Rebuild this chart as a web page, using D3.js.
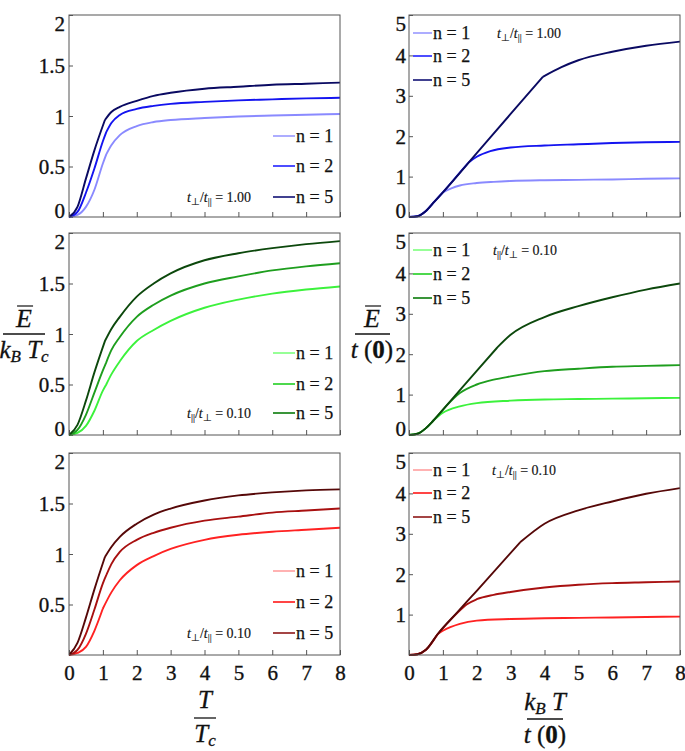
<!DOCTYPE html>
<html><head><meta charset="utf-8">
<script src="https://cdn.jsdelivr.net/npm/d3@7"></script>
<style>
body{margin:0;background:#fff}
svg{display:block}
</style>
</head><body>
<svg id="chart" width="685" height="751"></svg>
<script>
// ---------------- data ----------------
const X_TICKS = [0, 1, 2, 3, 4, 5, 6, 7, 8];
const LEFT_Y_TICKS = [0, 0.5, 1, 1.5, 2];
const LEFT_Y_TICKS_BOTTOM = [0.5, 1, 1.5, 2];
const RIGHT_Y_TICKS = [0, 1, 2, 3, 4, 5];
const RIGHT_Y_TICKS_BOTTOM = [1, 2, 3, 4, 5];
const SERIES_NAMES = ["n = 1", "n = 2", "n = 5"];

// top-left: E/(kB Tc) vs T/Tc, t⊥/t|| = 1.00
const tl_n1 = [[0,0],[0.25,0.02],[0.5,0.1],[0.75,0.27],[1,0.53],[1.1,0.62],[1.25,0.71],[1.5,0.81],[2,0.9],[2.5,0.94],[3,0.96],[4,0.98],[5,0.995],[6,1.005],[7,1.013],[8,1.02]];
const tl_n2 = [[0,0],[0.25,0.05],[0.5,0.24],[0.75,0.48],[1,0.75],[1.1,0.84],[1.25,0.93],[1.5,1.01],[2,1.07],[2.5,1.1],[3,1.12],[4,1.14],[5,1.155],[6,1.165],[7,1.175],[8,1.18]];
const tl_n5 = [[0,0],[0.25,0.1],[0.5,0.38],[0.75,0.66],[1.06,0.96],[1.25,1.04],[1.5,1.09],[2,1.15],[2.5,1.2],[3,1.23],[4,1.27],[5,1.29],[6,1.31],[7,1.32],[8,1.33]];
const tl_kinks = [1.1, 1.1, 1.06];

// top-right: E/t(0) vs kB T/t(0), t⊥/t|| = 1.00
const tr_n1 = [[0,0],[0.25,0.02],[0.5,0.15],[0.75,0.38],[1,0.61],[1.25,0.71],[1.5,0.78],[2,0.84],[2.5,0.87],[3,0.89],[4,0.91],[5,0.92],[6,0.93],[7,0.945],[8,0.955]];
const tr_n2 = [[0,0],[0.25,0.02],[0.5,0.15],[0.75,0.38],[1,0.61],[1.25,0.85],[1.5,1.1],[1.75,1.34],[2,1.49],[2.4,1.63],[3,1.72],[4,1.77],[5,1.8],[6,1.83],[7,1.85],[8,1.86]];
const tr_n5 = [[0,0],[0.25,0.02],[0.5,0.15],[0.75,0.38],[1,0.61],[2,1.58],[3,2.55],[3.95,3.47],[4.5,3.71],[5,3.88],[6,4.09],[7,4.24],[8,4.34]];
const tr_kinks = [1, 1.75, 3.95];

// middle-left: t||/t⊥ = 0.10
const ml_n1 = [[0,0],[0.25,0.02],[0.5,0.09],[0.75,0.24],[1,0.44],[1.1,0.5],[1.25,0.6],[1.5,0.73],[2,0.93],[2.5,1.04],[3,1.13],[4,1.26],[5,1.34],[6,1.4],[7,1.44],[8,1.47]];
const ml_n2 = [[0,0],[0.25,0.05],[0.5,0.2],[0.75,0.42],[1,0.64],[1.1,0.72],[1.25,0.84],[1.5,0.97],[2,1.17],[2.5,1.29],[3,1.38],[4,1.5],[5,1.57],[6,1.63],[7,1.67],[8,1.7]];
const ml_n5 = [[0,0],[0.25,0.1],[0.5,0.34],[0.75,0.62],[1.06,0.93],[1.25,1.05],[1.5,1.17],[2,1.37],[2.5,1.5],[3,1.6],[4,1.73],[5,1.8],[6,1.85],[7,1.89],[8,1.92]];
const ml_kinks = [1.1, 1.1, 1.06];

// middle-right: t||/t⊥ = 0.10
const mr_n1 = [[0,0],[0.25,0.03],[0.5,0.17],[0.7,0.34],[1,0.55],[1.5,0.71],[2,0.79],[3,0.85],[4,0.88],[5,0.89],[6,0.9],[7,0.91],[8,0.92]];
const mr_n2 = [[0,0],[0.25,0.03],[0.5,0.17],[0.7,0.34],[1.1,0.72],[1.5,1.04],[2,1.25],[2.5,1.37],[3,1.45],[4,1.58],[5,1.64],[6,1.69],[7,1.71],[8,1.73]];
const mr_n5 = [[0,0],[0.25,0.03],[0.5,0.17],[0.7,0.34],[1.1,0.72],[2,1.59],[2.6,2.16],[3,2.48],[4,2.92],[5,3.19],[6,3.41],[7,3.6],[8,3.75]];
const mr_kinks = [0.7, 1.1, 2.6];

// bottom-left: t⊥/t|| = 0.10
const bl_n1 = [[0,0],[0.25,0.02],[0.5,0.08],[0.75,0.24],[1,0.46],[1.25,0.62],[1.5,0.74],[2,0.89],[2.5,0.98],[3,1.05],[4,1.14],[5,1.19],[6,1.22],[7,1.24],[8,1.26]];
const bl_n2 = [[0,0],[0.25,0.05],[0.5,0.21],[0.75,0.45],[1,0.71],[1.1,0.79],[1.25,0.9],[1.5,1.02],[2,1.14],[2.5,1.21],[3,1.26],[4,1.33],[5,1.37],[6,1.41],[7,1.43],[8,1.45]];
const bl_n5 = [[0,0],[0.25,0.12],[0.5,0.37],[0.75,0.65],[1.06,0.97],[1.25,1.07],[1.5,1.17],[2,1.3],[2.5,1.39],[3,1.45],[4,1.53],[5,1.58],[6,1.61],[7,1.63],[8,1.64]];
const bl_kinks = [1, 1.1, 1.06];

// bottom-right: t⊥/t|| = 0.10
const br_n1 = [[0,0],[0.25,0.02],[0.5,0.13],[0.85,0.52],[1,0.6],[1.5,0.77],[2,0.85],[3,0.89],[4,0.91],[5,0.92],[6,0.93],[7,0.94],[8,0.95]];
const br_n2 = [[0,0],[0.25,0.02],[0.5,0.13],[0.85,0.52],[1.45,1.06],[1.7,1.25],[2,1.38],[2.5,1.49],[3,1.56],[4,1.67],[5,1.74],[6,1.78],[7,1.8],[8,1.82]];
const br_n5 = [[0,0],[0.25,0.02],[0.5,0.13],[0.85,0.52],[1.45,1.08],[2,1.59],[3.28,2.79],[4,3.25],[5,3.58],[6,3.8],[7,3.99],[8,4.13]];
const br_kinks = [0.85, 1.45, 3.28];

// ---------------- styles ----------------
const BLUE_LINES  = ["#8a8aff", "#1414f0", "#0a0a62"];
const BLUE_KEYS   = ["#a4a4ff", "#3a3aff", "#2c2c84"];
const GREEN_LINES = ["#3cf23c", "#1e9e1e", "#0c480c"];
const GREEN_KEYS  = ["#8cff8c", "#3ad43a", "#248a24"];
const RED_LINES   = ["#ff2222", "#a81010", "#560808"];
const RED_KEYS    = ["#ffaaaa", "#ff3030", "#9a3030"];

const FONT = "'Liberation Serif', Tinos, 'Times New Roman', serif";
const COL_X = [[69, 340], [409, 680]];
const ROW_Y = [[15, 217], [233, 435], [453, 655]];
const FRAME = "#555";
const INK = "#111";

const panels = [
  {id:"tl", col:0, row:0, yMax:2, yTicks:LEFT_Y_TICKS, series:[tl_n1,tl_n2,tl_n5], kinks:tl_kinks, lines:BLUE_LINES, keys:BLUE_KEYS,
   legend:{x:273, ys:[136,166,197]}, ann:{x:187, y:197, a:"⊥", b:"||", v:"1.00"}},
  {id:"tr", col:1, row:0, yMax:5, yTicks:RIGHT_Y_TICKS, series:[tr_n1,tr_n2,tr_n5], kinks:tr_kinks, lines:BLUE_LINES, keys:BLUE_KEYS,
   legend:{x:413, ys:[33,56,80]}, ann:{x:497, y:33, a:"⊥", b:"||", v:"1.00"}},
  {id:"ml", col:0, row:1, yMax:2, yTicks:LEFT_Y_TICKS, series:[ml_n1,ml_n2,ml_n5], kinks:ml_kinks, lines:GREEN_LINES, keys:GREEN_KEYS,
   legend:{x:273, ys:[353,384,413]}, ann:{x:187, y:413, a:"||", b:"⊥", v:"0.10"}},
  {id:"mr", col:1, row:1, yMax:5, yTicks:RIGHT_Y_TICKS, series:[mr_n1,mr_n2,mr_n5], kinks:mr_kinks, lines:GREEN_LINES, keys:GREEN_KEYS,
   legend:{x:413, ys:[250,274,298]}, ann:{x:493, y:250, a:"||", b:"⊥", v:"0.10"}},
  {id:"bl", col:0, row:2, yMax:2, yTicks:LEFT_Y_TICKS_BOTTOM, series:[bl_n1,bl_n2,bl_n5], kinks:bl_kinks, lines:RED_LINES, keys:RED_KEYS,
   legend:{x:273, ys:[571,602,633]}, ann:{x:187, y:633, a:"⊥", b:"||", v:"0.10"}},
  {id:"br", col:1, row:2, yMax:5, yTicks:RIGHT_Y_TICKS_BOTTOM, series:[br_n1,br_n2,br_n5], kinks:br_kinks, lines:RED_LINES, keys:RED_KEYS,
   legend:{x:413, ys:[470,493,517]}, ann:{x:492, y:470, a:"⊥", b:"||", v:"0.10"}}
];

const svg = d3.select("#chart");
const defs = svg.append("defs");

function setFont(sel, size, heavy){
  sel.style("font-family", FONT).style("font-size", size + "px").attr("fill", INK);
  if (heavy) sel.attr("stroke", INK).attr("stroke-width", heavy).attr("paint-order", "stroke");
  return sel;
}

function drawPanel(p){
  const [x0, x1] = COL_X[p.col], [y0, y1] = ROW_Y[p.row];
  const x = d3.scaleLinear().domain([0, 8]).range([x0, x1]);
  const y = d3.scaleLinear().domain([0, p.yMax]).range([y1, y0]);
  const g = svg.append("g").attr("class", "panel-" + p.id);

  defs.append("clipPath").attr("id", "clip-" + p.id)
    .append("rect").attr("x", x0).attr("y", y0 - 1).attr("width", x1 - x0).attr("height", y1 - y0 + 2);

  // x axis (ticks inward)
  const xa = g.append("g").attr("transform", `translate(0,${y1})`)
    .call(d3.axisBottom(x).tickValues(X_TICKS).tickSize(-5).tickSizeOuter(0).tickPadding(10)
      .tickFormat(p.row === 2 ? d3.format("d") : () => ""));
  xa.select(".domain").remove();
  xa.selectAll("line").attr("stroke", FRAME);
  setFont(xa.selectAll("text"), 21, 0.35);

  // y axis
  const ya = g.append("g").attr("transform", `translate(${x0},0)`)
    .call(d3.axisLeft(y).tickValues(p.yTicks).tickSize(-4).tickSizeOuter(0).tickPadding(p.col === 0 ? 4 : 3)
      .tickFormat(d => String(d)));
  ya.select(".domain").remove();
  ya.selectAll("line").attr("stroke", FRAME);
  setFont(ya.selectAll("text"), 21, 0.35)
    .attr("dy", null).attr("dominant-baseline", "central")
    .attr("y", d => { const py = y(d); const c = Math.min(Math.max(py, y0 + 8), y1 - 7); return c - py; });

  // curves: smooth pieces joined at kink points
  const line = d3.line().x(d => x(d[0])).y(d => y(d[1])).curve(d3.curveMonotoneX);
  p.series.forEach((s, i) => {
    const k = p.kinks[i];
    const pieces = [s.filter(d => d[0] <= k), s.filter(d => d[0] >= k)];
    const dstr = pieces.filter(pc => pc.length > 1).map(pc => line(pc)).join("");
    g.append("path").attr("d", dstr).attr("fill", "none")
      .attr("stroke", p.lines[i]).attr("stroke-width", 1.9).attr("stroke-linejoin", "round")
      .attr("clip-path", `url(#clip-${p.id})`);
  });

  // frame
  g.append("rect").attr("x", x0).attr("y", y0).attr("width", x1 - x0).attr("height", y1 - y0)
    .attr("fill", "none").attr("stroke", FRAME).attr("stroke-width", 1);

  // legend
  const lw = p.col === 0 ? 22 : 19;
  SERIES_NAMES.forEach((name, i) => {
    const ly = p.legend.ys[i];
    g.append("line").attr("x1", p.legend.x).attr("x2", p.legend.x + lw).attr("y1", ly).attr("y2", ly)
      .attr("stroke", p.keys[i]).attr("stroke-width", 1.8);
    setFont(g.append("text"), 18, 0.25).attr("x", p.legend.x + lw + 1).attr("y", ly).attr("dy", "0.35em").text(name);
  });

  // annotation  t_a / t_b = v
  const t = setFont(g.append("text"), 14, 0.15).attr("x", p.ann.x).attr("y", p.ann.y).attr("dy", "0.35em");
  t.append("tspan").style("font-style", "italic").text("t");
  t.append("tspan").style("font-size", "10px").attr("dy", 3).text(p.ann.a);
  t.append("tspan").attr("dy", -3).text("/");
  t.append("tspan").style("font-style", "italic").text("t");
  t.append("tspan").style("font-size", "10px").attr("dy", 3).text(p.ann.b);
  t.append("tspan").attr("dy", -3).text(" = " + p.ann.v);
}
panels.forEach(drawPanel);

// ------------- axis titles (fractions) -------------
function fracLine(x1, x2, yy){
  svg.append("line").attr("x1", x1).attr("x2", x2).attr("y1", yy).attr("y2", yy)
    .attr("stroke", INK).attr("stroke-width", 1.3);
}
function txt(x, y, size){
  return setFont(svg.append("text"), size, 0.3).attr("x", x).attr("y", y).attr("text-anchor", "middle");
}
function it(sel, s, size, dy){
  const t = sel.append("tspan").style("font-style", "italic").text(s);
  if (size) t.style("font-size", size + "px");
  if (dy) t.attr("dy", dy);
  return t;
}
function barE(cx, base){
  const e = txt(cx, base, 26);
  it(e, "E");
  const bb = e.node().getBBox();
  svg.append("line").attr("x1", bb.x + 2).attr("x2", bb.x + bb.width + 1).attr("y1", base - 21).attr("y2", base - 21)
    .attr("stroke", INK).attr("stroke-width", 1.2);
}
// left y title: E / (kB Tc)
barE(24, 327);
fracLine(3, 45, 334);
{
  const d = txt(24, 358, 25);
  it(d, "k"); it(d, "B", 17, 4);
  d.append("tspan").attr("dy", -4).text(" ");
  it(d, "T"); it(d, "c", 17, 4);
}
// right y title: E / t(0)
barE(372, 327);
fracLine(355, 390, 334);
{
  const d = txt(372, 358, 25);
  it(d, "t");
  d.append("tspan").text(" (");
  d.append("tspan").style("font-weight", "bold").text("0");
  d.append("tspan").text(")");
}
// left x title: T / Tc
{
  const n = txt(205, 708, 25); it(n, "T");
  fracLine(194, 216, 718);
  const d = txt(205, 742, 25);
  it(d, "T"); it(d, "c", 17, 4);
}
// right x title: kB T / t(0)
{
  const n = txt(545, 710, 25);
  it(n, "k"); it(n, "B", 17, 4);
  n.append("tspan").attr("dy", -4).text(" ");
  it(n, "T");
  fracLine(527, 563, 719);
  const d = txt(545, 743, 25);
  it(d, "t");
  d.append("tspan").text(" (");
  d.append("tspan").style("font-weight", "bold").text("0");
  d.append("tspan").text(")");
}
</script>
</body></html>
